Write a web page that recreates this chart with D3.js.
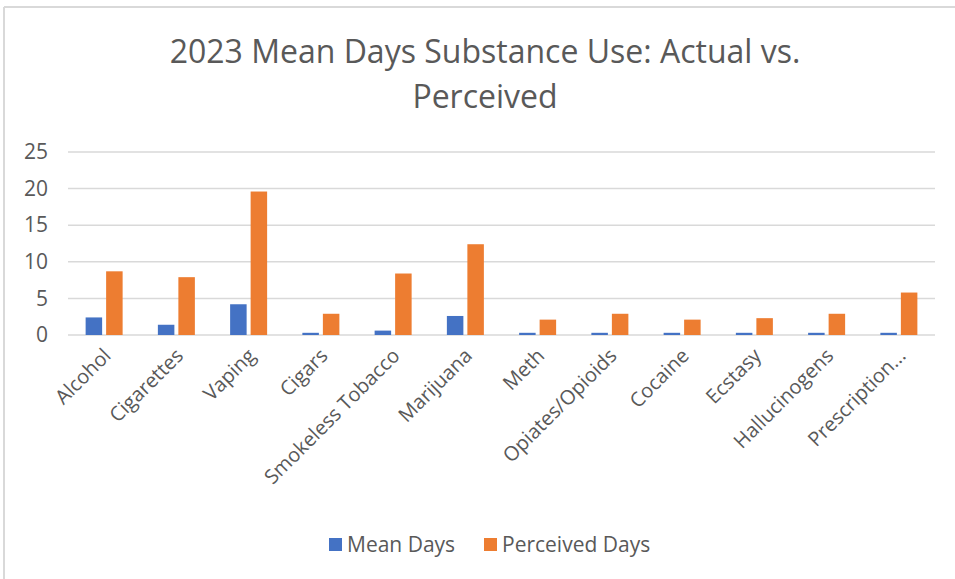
<!DOCTYPE html>
<html>
<head>
<meta charset="utf-8">
<script src="https://cdn.jsdelivr.net/npm/d3@7"></script>
<style>
  html, body { margin: 0; padding: 0; background: #fff; }
  svg { display: block; font-family: "Open Sans", "Noto Sans", sans-serif; }
</style>
</head>
<body>
<svg id="chart" width="955" height="579"></svg>
<script>
// Substance categories and the two series
const categories = ["Alcohol", "Cigarettes", "Vaping", "Cigars", "Smokeless Tobacco", "Marijuana",
  "Meth", "Opiates/Opioids", "Cocaine", "Ecstasy", "Hallucinogens", "Prescription..."];
const meanDays = [2.4, 1.4, 4.2, 0.3, 0.6, 2.6, 0.3, 0.3, 0.3, 0.3, 0.3, 0.3];
const perceivedDays = [8.7, 7.9, 19.6, 2.9, 8.4, 12.4, 2.1, 2.9, 2.1, 2.3, 2.9, 5.8];
const seriesNames = ["Mean Days", "Perceived Days"];
const seriesColors = ["#4472C4", "#ED7D31"];
const yTicks = [0, 5, 10, 15, 20, 25];
const titleLines = ["2023 Mean Days Substance Use: Actual vs.", "Perceived"];

const svg = d3.select("#chart");
const textColor = "#595959";

// Chart frame
svg.append("line").attr("x1", 4).attr("x2", 955).attr("y1", 7).attr("y2", 7)
  .attr("stroke", "#d9d9d9").attr("stroke-width", 2);
svg.append("line").attr("x1", 4).attr("x2", 4).attr("y1", 7).attr("y2", 579)
  .attr("stroke", "#d9d9d9").attr("stroke-width", 2);

const plot = { left: 68, right: 935, top: 152, bottom: 335 };

const x = d3.scaleBand().domain(categories).range([plot.left, plot.right]);
const y = d3.scaleLinear().domain([0, 25]).range([plot.bottom, plot.top]);

// Title
const title = svg.append("g").attr("fill", textColor);
titleLines.forEach((t, i) => {
  title.append("text")
    .attr("x", 485).attr("y", 63 + i * 45)
    .attr("text-anchor", "middle")
    .attr("font-size", 32)
    .text(t);
});

// Gridlines
svg.append("g")
  .selectAll("line").data(yTicks).join("line")
  .attr("x1", plot.left).attr("x2", plot.right)
  .attr("y1", d => y(d)).attr("y2", d => y(d))
  .attr("stroke", "#d9d9d9").attr("stroke-width", 1.5);

// Y axis
const yAxis = svg.append("g")
  .attr("transform", `translate(${plot.left - 20},0)`)
  .call(d3.axisLeft(y).tickValues(yTicks).tickSize(0).tickPadding(0));
yAxis.select(".domain").remove();
yAxis.selectAll("text")
  .attr("fill", textColor).attr("font-size", 21)
  .attr("font-family", "'Open Sans', sans-serif");

// Bars
const barW = 16.5, gap = 4;
const groups = svg.append("g").selectAll("g").data(categories).join("g")
  .attr("transform", d => `translate(${x(d) + x.bandwidth() / 2},0)`);
const values = [meanDays, perceivedDays];
values.forEach((vals, s) => {
  groups.append("rect")
    .attr("x", s === 0 ? -barW - gap / 2 : gap / 2)
    .attr("width", barW)
    .attr("y", (d, i) => y(vals[i]))
    .attr("height", (d, i) => y(0) - y(vals[i]))
    .attr("fill", seriesColors[s]);
});

// X axis labels (rotated)
const xAxis = svg.append("g")
  .attr("transform", `translate(0,${plot.bottom})`)
  .call(d3.axisBottom(x).tickSize(0).tickPadding(0));
xAxis.select(".domain").remove();
xAxis.selectAll("text")
  .attr("fill", textColor).attr("font-size", 20)
  .attr("font-family", "'Open Sans', sans-serif")
  .attr("text-anchor", "end")
  .attr("dy", 0)
  .attr("transform", "translate(8,22) rotate(-45)");

// Legend
const legend = svg.append("g").attr("fill", textColor);
const legendX = [329, 484];
seriesNames.forEach((name, i) => {
  legend.append("rect").attr("x", legendX[i]).attr("y", 538)
    .attr("width", 13).attr("height", 13).attr("fill", seriesColors[i]);
  legend.append("text").attr("x", legendX[i] + 18).attr("y", 552)
    .attr("font-size", 21).text(name);
});
</script>
</body>
</html>
